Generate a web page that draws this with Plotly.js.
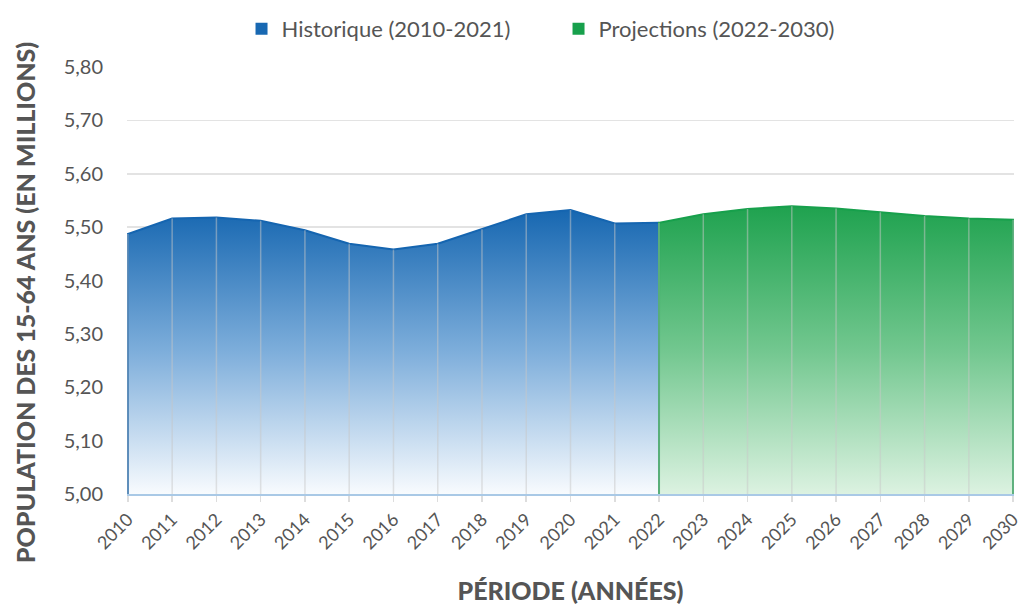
<!DOCTYPE html>
<html>
<head>
<meta charset="utf-8">
<script src="https://cdn.plot.ly/plotly-3.0.1.min.js"></script>
<style>
  html, body { margin: 0; padding: 0; background: #fff; }
  #chart { width: 1022px; height: 605px; }
</style>
</head>
<body>
<div id="chart"></div>
<script>
// data (millions of people aged 15-64)
const histYears = [2010, 2011, 2012, 2013, 2014, 2015, 2016, 2017, 2018, 2019, 2020, 2021, 2022];
const histValues = [5.487, 5.516, 5.518, 5.512, 5.494, 5.469, 5.458, 5.469, 5.496, 5.524, 5.532, 5.507, 5.508];
const projYears = [2022, 2023, 2024, 2025, 2026, 2027, 2028, 2029, 2030];
const projValues = [5.508, 5.524, 5.534, 5.539, 5.535, 5.528, 5.521, 5.516, 5.514];
const yTicks = [5.0, 5.1, 5.2, 5.3, 5.4, 5.5, 5.6, 5.7, 5.8];
const BASE = 5.0;

const grey = "#555555";
const blue = "#1565b0";
const green = "#17a04c";

// outline: up from the baseline, along the values, (optionally) back down
function areaPath(xs, ys, closeRight) {
	let x = [xs[0]].concat(xs);
	let y = [BASE].concat(ys);
	if (closeRight) {
		x.push(xs[xs.length - 1]);
		y.push(BASE);
	}
	return {x: x, y: y};
}

// light vertical lines over the areas, one per year
function yearLines(xs, ys) {
	let x = [], y = [];
	for (let i = 0; i < xs.length; ++i) {
		x.push(xs[i], xs[i], null);
		y.push(BASE, ys[i], null);
	}
	return {x: x, y: y};
}

const histPath = areaPath(histYears, histValues, false);
const projPath = areaPath(projYears, projValues, true);

let hist = {
	type: 'scatter', mode: 'lines',
	x: histPath.x, y: histPath.y,
	fill: 'tozeroy',
	fillgradient: {
		type: 'vertical',
		start: BASE, stop: Math.max(...histValues),
		colorscale: [[0, '#f8fbfe'], [0.5, '#7eaedb'], [1, '#1767b1']]
	},
	line: {color: blue, width: 2},
	showlegend: false, hoverinfo: 'skip'
};

let proj = {
	type: 'scatter', mode: 'lines',
	x: projPath.x, y: projPath.y,
	fill: 'tozeroy',
	fillgradient: {
		type: 'vertical',
		start: BASE, stop: Math.max(...projValues),
		colorscale: [[0, '#dcf2e1'], [0.5, '#72c78f'], [1, '#1fa24f']]
	},
	line: {color: green, width: 2},
	showlegend: false, hoverinfo: 'skip'
};

const allYears = histYears.slice(0, -1).concat(projYears);
const allValues = histValues.slice(0, -1).concat(projValues);
const gl = yearLines(allYears, allValues);
let grid = {
	type: 'scatter', mode: 'lines',
	x: gl.x, y: gl.y,
	line: {color: 'rgba(200,200,200,0.5)', width: 1.5},
	showlegend: false, hoverinfo: 'skip'
};

let legHist = {
	type: 'scatter', mode: 'markers', x: [null], y: [null],
	name: 'Historique (2010-2021)',
	marker: {symbol: 'square', size: 12, color: '#1868b2'}
};
let legProj = {
	type: 'scatter', mode: 'markers', x: [null], y: [null],
	name: 'Projections (2022-2030)',
	marker: {symbol: 'square', size: 12, color: green}
};

let layout = {
	width: 1022, height: 605,
	margin: {l: 127, r: 8, t: 65, b: 111},
	paper_bgcolor: '#ffffff',
	plot_bgcolor: '#ffffff',
	separators: ', ',
	font: {family: 'Lato, sans-serif', color: grey},
	showlegend: true,
	legend: {
		orientation: 'h',
		x: 0.4865, xanchor: 'center',
		y: 1.089, yanchor: 'middle',
		font: {size: 22, color: grey},
		entrywidth: 272, entrywidthmode: 'pixels'
	},
	xaxis: {
		range: [2009.98, 2030.02],
		automargin: false,
		tickmode: 'array',
		tickvals: allYears,
		ticktext: allYears.map(String),
		tickangle: -45,
		ticklabeloverflow: 'allow',
		tickfont: {size: 18, color: grey},
		ticks: 'outside', ticklen: 6, tickcolor: '#dddddd', tickwidth: 1.5,
		showgrid: false,
		zeroline: false,
		showline: true, linecolor: '#a9c9e6', linewidth: 2,
		title: {
			text: 'PÉRIODE (ANNÉES)',
			font: {size: 25, color: grey, weight: 900},
			standoff: 30
		}
	},
	yaxis: {
		range: [5.0, 5.8],
		automargin: false,
		tickmode: 'array',
		tickvals: yTicks,
		tickformat: '.2f',
		tickfont: {size: 20, color: grey},
		ticklabelstandoff: 23,
		showgrid: true, gridcolor: '#e3e3e3', gridwidth: 1.5,
		zeroline: false,
		showline: false
	},
	annotations: [{
		text: 'POPULATION DES 15-64 ANS (EN MILLIONS)',
		textangle: -90,
		xref: 'paper', yref: 'paper',
		x: -0.1147, y: 0.4476,
		xanchor: 'center', yanchor: 'middle',
		showarrow: false,
		font: {size: 25, color: grey, weight: 900}
	}]
};

Plotly.newPlot('chart', [hist, proj, grid, legHist, legProj], layout, {displayModeBar: false, staticPlot: true});
</script>
</body>
</html>
